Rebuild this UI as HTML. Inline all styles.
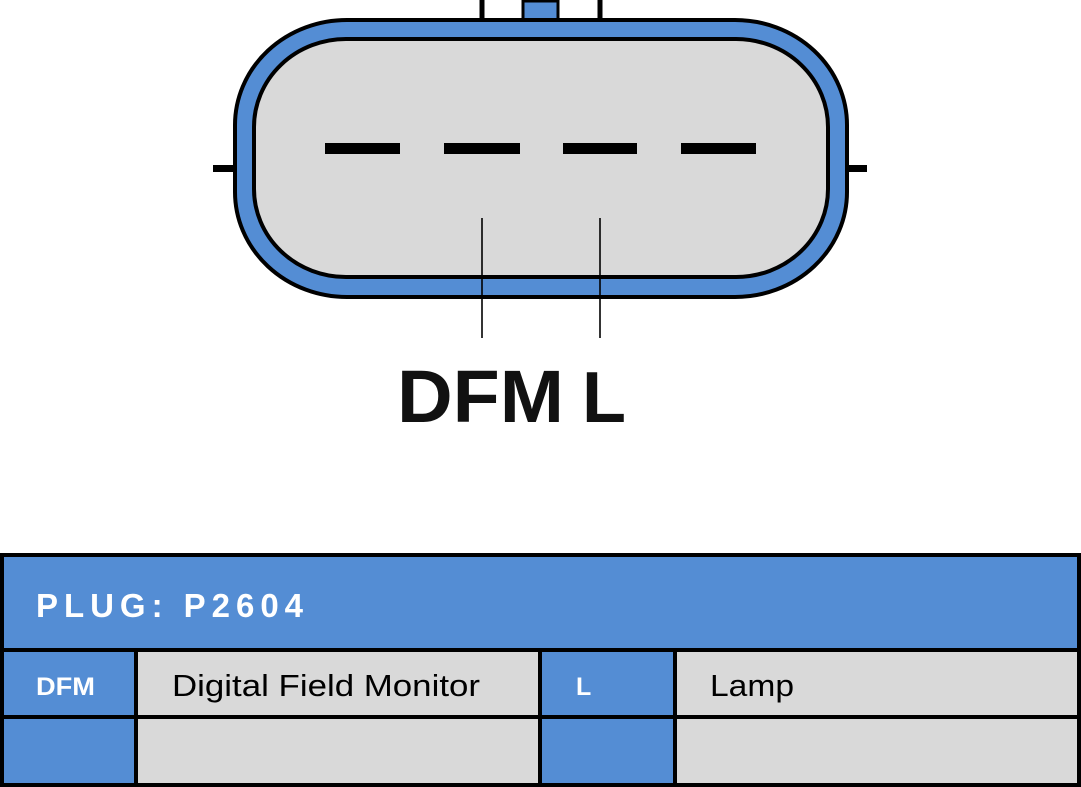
<!DOCTYPE html>
<html><head><meta charset="utf-8"><style>
body{margin:0;width:1081px;height:787px;background:#fff;overflow:hidden;position:relative;font-family:"Liberation Sans",sans-serif}
svg{position:absolute;left:0;top:0}
</style></head><body>
<svg width="1081" height="787" viewBox="0 0 1081 787">
<line x1="482" y1="0" x2="482" y2="20" stroke="#000" stroke-width="5"/>
<line x1="600" y1="0" x2="600" y2="20" stroke="#000" stroke-width="5"/>
<rect x="523" y="1" width="35" height="20" fill="#548dd4" stroke="#000" stroke-width="3"/>
<rect x="213" y="165" width="22" height="7" fill="#000"/>
<rect x="847" y="165" width="20" height="7" fill="#000"/>
<rect x="235" y="20" width="612" height="277" rx="112" ry="105" fill="#548dd4" stroke="#000" stroke-width="4"/>
<rect x="254" y="39" width="574" height="238" rx="92" ry="88" fill="#d9d9d9" stroke="#000" stroke-width="4"/>
<g fill="#000">
<rect x="325" y="143" width="75" height="11"/>
<rect x="444" y="143" width="76" height="11"/>
<rect x="563" y="143" width="74" height="11"/>
<rect x="681" y="143" width="75" height="11"/>
</g>
<line x1="482" y1="218" x2="482" y2="338" stroke="#000" stroke-width="1.6"/>
<line x1="600" y1="218" x2="600" y2="338" stroke="#000" stroke-width="1.6"/>
<text x="397" y="422" font-size="74" font-family="Liberation Sans, sans-serif" font-weight="bold" fill="#111" textLength="167" lengthAdjust="spacingAndGlyphs">DFM</text>
<text x="582" y="422" font-size="72" font-family="Liberation Sans, sans-serif" font-weight="bold" fill="#111">L</text>
<rect x="0" y="553" width="1081" height="234" fill="#000"/>
<rect x="4" y="557" width="1073" height="91" fill="#548dd4"/>
<rect x="4" y="652" width="130" height="63" fill="#548dd4"/>
<rect x="138" y="652" width="400" height="63" fill="#d9d9d9"/>
<rect x="542" y="652" width="131" height="63" fill="#548dd4"/>
<rect x="677" y="652" width="400" height="63" fill="#d9d9d9"/>
<rect x="4" y="719" width="130" height="64" fill="#548dd4"/>
<rect x="138" y="719" width="400" height="64" fill="#d9d9d9"/>
<rect x="542" y="719" width="131" height="64" fill="#548dd4"/>
<rect x="677" y="719" width="400" height="64" fill="#d9d9d9"/>
<text x="36" y="617" font-size="33" font-weight="bold" fill="#fff" textLength="267" lengthAdjust="spacing">PLUG: P2604</text>
<text x="36" y="695" font-size="25" font-weight="bold" fill="#fff" textLength="59" lengthAdjust="spacingAndGlyphs">DFM</text>
<text x="172" y="696" font-size="31" fill="#000" textLength="308" lengthAdjust="spacingAndGlyphs">Digital Field Monitor</text>
<text x="576" y="695" font-size="25" font-weight="bold" fill="#fff">L</text>
<text x="710" y="696" font-size="31" fill="#000" textLength="84" lengthAdjust="spacingAndGlyphs">Lamp</text>
</svg>
</body></html>
